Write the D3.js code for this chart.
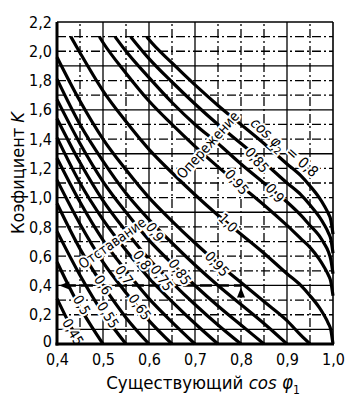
<!DOCTYPE html>
<html><head><meta charset="utf-8">
<script src="https://cdn.jsdelivr.net/npm/d3@7"></script>
<style>
body{margin:0;background:#fff}
svg{display:block}
text{font-family:"DejaVu Sans Condensed","Liberation Sans Narrow","DejaVu Sans",sans-serif;fill:#000}
</style>
</head><body>
<svg id="c" width="358" height="400"></svg>
<script>
// ---- data ----
const xTicks = [0.4, 0.5, 0.6, 0.7, 0.8, 0.9, 1.0];
const yTicks = [0, 0.2, 0.4, 0.6, 0.8, 1.0, 1.2, 1.4, 1.6, 1.8, 2.0, 2.2];
const gridX = [0.45, 0.5, 0.55, 0.6, 0.65, 0.7, 0.75, 0.8, 0.85, 0.9, 0.95];
const gridXSolid = [0.5, 0.6, 0.7, 0.9];
const gridY = [0.1,0.2,0.3,0.4,0.5,0.6,0.7,0.8,0.9,1.0,1.1,1.2,1.3,1.4,1.5,1.6,1.7,1.8,1.9,2.0,2.1];
const gridYSolid = [0.1, 0.4, 0.9, 1.3, 1.6, 1.9];

// lagging cos φ2 curves (Отставание): [cos φ1, K]
const lag045 = [[0.40,0.31],[0.425,0.15],[0.45,0]];
const lag050 = [[0.40,0.56],[0.45,0.25],[0.475,0.12],[0.50,0]];
const lag055 = [[0.40,0.77],[0.45,0.47],[0.50,0.21],[0.55,0]];
const lag060 = [[0.40,0.96],[0.45,0.65],[0.50,0.40],[0.55,0.18],[0.60,0]];
const lag065 = [[0.40,1.12],[0.45,0.82],[0.50,0.56],[0.55,0.35],[0.60,0.16],[0.65,0]];
const lag070 = [[0.40,1.27],[0.45,0.97],[0.50,0.71],[0.55,0.50],[0.60,0.31],[0.65,0.15],[0.70,0]];
const lag075 = [[0.40,1.41],[0.45,1.10],[0.50,0.85],[0.55,0.64],[0.60,0.45],[0.65,0.29],[0.70,0.14],[0.75,0]];
const lag080 = [[0.40,1.54],[0.45,1.24],[0.50,0.98],[0.55,0.77],[0.60,0.58],[0.65,0.42],[0.70,0.27],[0.75,0.13],[0.80,0]];
const lag085 = [[0.40,1.67],[0.45,1.37],[0.50,1.11],[0.55,0.90],[0.60,0.71],[0.65,0.55],[0.70,0.40],[0.75,0.26],[0.80,0.13],[0.85,0]];
const lag090 = [[0.40,1.81],[0.45,1.50],[0.50,1.25],[0.55,1.03],[0.60,0.85],[0.65,0.69],[0.70,0.54],[0.75,0.40],[0.80,0.27],[0.85,0.14],[0.90,0]];
const lag095 = [[0.40,1.96],[0.45,1.66],[0.50,1.40],[0.55,1.19],[0.60,1.00],[0.65,0.84],[0.70,0.69],[0.75,0.55],[0.80,0.42],[0.85,0.29],[0.90,0.16],[0.93,0.06],[0.95,0]];
const lag100 = [[0.43,2.10],[0.45,1.99],[0.50,1.73],[0.55,1.52],[0.60,1.33],[0.65,1.17],[0.70,1.02],[0.75,0.88],[0.80,0.75],[0.85,0.62],[0.90,0.48],[0.93,0.40],[0.95,0.33],[0.97,0.25],[0.98,0.20],[0.99,0.14],[0.995,0.10],[1.0,0]];
// leading cos φ2 curves (Опережение)
const lead095 = [[0.492,2.10],[0.50,2.06],[0.55,1.85],[0.60,1.66],[0.65,1.50],[0.70,1.35],[0.75,1.21],[0.80,1.08],[0.85,0.95],[0.90,0.81],[0.93,0.72],[0.95,0.66],[0.97,0.58],[0.98,0.53],[0.99,0.47],[0.995,0.43],[1.0,0.33]];
const lead090 = [[0.526,2.10],[0.55,2.00],[0.60,1.82],[0.65,1.65],[0.70,1.50],[0.75,1.37],[0.80,1.23],[0.85,1.10],[0.90,0.97],[0.93,0.88],[0.95,0.81],[0.97,0.74],[0.98,0.69],[0.99,0.63],[0.995,0.58],[1.0,0.48]];
const lead085 = [[0.56,2.10],[0.60,1.95],[0.65,1.79],[0.70,1.64],[0.75,1.50],[0.80,1.37],[0.85,1.24],[0.90,1.10],[0.93,1.02],[0.95,0.95],[0.97,0.87],[0.98,0.82],[0.99,0.76],[0.995,0.72],[1.0,0.62]];
const lead080 = [[0.595,2.10],[0.60,2.08],[0.65,1.92],[0.70,1.77],[0.75,1.63],[0.80,1.50],[0.85,1.37],[0.90,1.23],[0.93,1.15],[0.95,1.08],[0.97,1.00],[0.98,0.95],[0.99,0.89],[0.995,0.85],[1.0,0.75]];

const curves = [lag045,lag050,lag055,lag060,lag065,lag070,lag075,lag080,lag085,lag090,lag095,lag100,lead095,lead090,lead085,lead080];

// curve labels: text, cos φ1, K, angle
const curveLabels = [
  ["0,95",0.791,1.107,50],["0,9",0.874,1.032,50],["0,85",0.835,1.257,50],
  ["1,0",0.772,0.827,45],["0,95",0.748,0.547,48],
  ["0,9",0.613,0.765,55],["0,85",0.667,0.492,55],["0,8",0.585,0.574,55],
  ["0,75",0.628,0.451,55],["0,7",0.546,0.471,55],["0,65",0.580,0.253,55],
  ["0,6",0.500,0.403,58],["0,55",0.511,0.198,58],["0,5",0.454,0.266,60],["0,45",0.435,0.082,60]
];
const wordLabels = [["Опережение",0.728,1.36,-48],["Отставание",0.520,0.69,-35]];
const exampleK = 0.4, exampleCos = 0.8;

// ---- drawing ----
const W = 358, H = 400;
const m = {l:57, r:25, t:22, b:56};
const svg = d3.select("#c");
const x = d3.scaleLinear().domain([0.4,1.0]).range([m.l, W-m.r]);
const y = d3.scaleLinear().domain([0,2.2]).range([H-m.b, m.t]);
const comma = v => v===0 ? "0" : d3.format(".1f")(v).replace(".", ",");

const grid = svg.append("g").attr("stroke","#000").attr("fill","none");
gridX.forEach(v => grid.append("line")
  .attr("x1",x(v)).attr("x2",x(v)).attr("y1",y(0)).attr("y2",y(2.2))
  .attr("stroke-width",1.3)
  .attr("stroke-dasharray", gridXSolid.includes(v) ? null : "9,3,2,3"));
gridY.forEach(v => grid.append("line")
  .attr("x1",x(0.4)).attr("x2",x(1.0)).attr("y1",y(v)).attr("y2",y(v))
  .attr("stroke-width",1.3)
  .attr("stroke-dasharray", gridYSolid.includes(v) ? null : "9,3,2,3"));

// frame
svg.append("line").attr("x1",x(0.4)).attr("x2",x(1.0)).attr("y1",y(2.2)).attr("y2",y(2.2)).attr("stroke","#000").attr("stroke-width",1.6);
svg.append("line").attr("x1",x(1.0)).attr("x2",x(1.0)).attr("y1",y(0)).attr("y2",y(2.2)).attr("stroke","#000").attr("stroke-width",1.6);

// example dashed line
svg.append("line").attr("x1",x(0.415)).attr("x2",x(exampleCos)).attr("y1",y(exampleK)).attr("y2",y(exampleK))
  .attr("stroke","#000").attr("stroke-width",2.4).attr("stroke-dasharray","12,5");
svg.append("path").attr("d",`M${x(0.405)},${y(exampleK)} l10,-4 l0,8 z`).attr("fill","#000");
svg.append("path").attr("d",`M${x(exampleCos)},${y(exampleK)+2} l-4,10 l8,0 z`).attr("fill","#000");

// curves
const line = d3.line().x(d=>x(d[0])).y(d=>y(d[1])).curve(d3.curveMonotoneX);
svg.append("g").selectAll("path").data(curves).join("path")
  .attr("d", line).attr("fill","none").attr("stroke","#000").attr("stroke-width",3.2);

// labels with white halo
function lab(t, cx, k, ang, size){
  return svg.append("text").attr("transform",`translate(${x(cx)},${y(k)}) rotate(${ang})`)
    .attr("text-anchor","middle").attr("dy","0.35em").attr("font-size",size)
    .attr("stroke","#fff").attr("stroke-width",4).attr("paint-order","stroke").text(t);
}
curveLabels.forEach(d => lab(d[0], d[1], d[2], d[3], 14));
wordLabels.forEach(d => lab(d[0], d[1], d[2], d[3], 14));
const cl = svg.append("text").attr("transform",`translate(${x(0.893)},${y(1.339)}) rotate(42)`)
  .attr("text-anchor","middle").attr("dy","0.35em").attr("font-size",15)
  .attr("stroke","#fff").attr("stroke-width",4).attr("paint-order","stroke");
cl.append("tspan").attr("font-style","italic").text("cos φ");
cl.append("tspan").attr("font-size",10).attr("dy","0.45em").text("2");
cl.append("tspan").attr("dy","-0.45em").text(" = 0,8");

// axes
const ax = svg.append("g").attr("transform",`translate(0,${y(0)})`)
  .call(d3.axisBottom(x).tickValues(xTicks).tickSize(0).tickPadding(10).tickFormat(comma));
const ay = svg.append("g").attr("transform",`translate(${x(0.4)},0)`)
  .call(d3.axisLeft(y).tickValues(yTicks).tickSize(0).tickPadding(5).tickFormat(comma));
[ax, ay].forEach(g => { g.select(".domain").remove(); g.selectAll("text").attr("font-size",16).attr("font-family",null); });
ay.selectAll(".tick").filter(d => d === 0).select("text").attr("dy","0.15em");

svg.append("line").attr("x1",x(0.4)).attr("x2",x(0.4)).attr("y1",y(0)+1.5).attr("y2",y(2.2)).attr("stroke","#000").attr("stroke-width",3);
svg.append("line").attr("x1",x(0.4)-1.5).attr("x2",x(1.0)+1).attr("y1",y(0)).attr("y2",y(0)).attr("stroke","#000").attr("stroke-width",3);

// axis titles
const xt = svg.append("text").attr("x",(x(0.4)+x(1.0))/2+8).attr("y",389).attr("text-anchor","middle").attr("font-size",18.5);
xt.append("tspan").text("Существующий ");
xt.append("tspan").attr("font-style","italic").text("cos φ");
xt.append("tspan").attr("font-size",12).attr("dy","0.4em").text("1");
const yt = svg.append("text").attr("transform",`translate(24,${y(1.1)-10}) rotate(-90)`).attr("text-anchor","middle").attr("font-size",18);
yt.append("tspan").text("Коэфициент ");
yt.append("tspan").attr("font-style","italic").text("K");
</script>
</body></html>
